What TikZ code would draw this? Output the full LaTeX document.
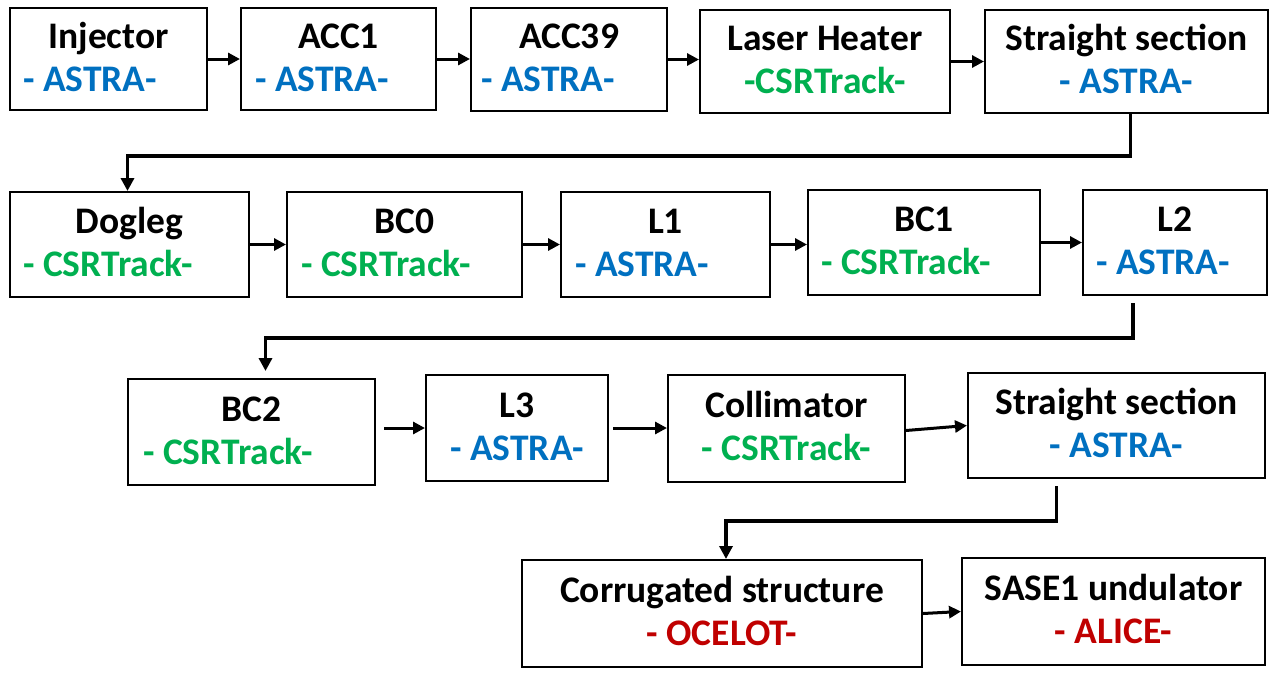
\documentclass[tikz,border=0pt]{standalone}
\usepackage{fontspec}
\setmainfont{Carlito}
\usetikzlibrary{arrows.meta}
\definecolor{cblue}{RGB}{0,112,192}
\definecolor{cgreen}{RGB}{0,176,80}
\definecolor{cred}{RGB}{192,0,0}
\newcommand{\stage}[6]{%
  \node[box, minimum width=#4pt, minimum height=#5pt] (#1) at (#2,#3) {};
  \node[ttl] (#1-t) at ([yshift=11pt]#1.center) {#6};}
\begin{document}
\begin{tikzpicture}[x=1pt,y=-1pt,
  box/.style={draw=black, line width=2pt, inner sep=0pt, fill=white},
  ttl/.style={font=\fontsize{37.5}{42}\selectfont\bfseries, anchor=base, inner sep=0pt},
  subc/.style={font=\fontsize{37.5}{42}\selectfont\bfseries, anchor=base, inner sep=0pt},
  subl/.style={font=\fontsize{37.5}{42}\selectfont\bfseries, anchor=base west, inner sep=0pt},
  arr/.style={line width=3pt, -{Triangle[length=12pt,width=12pt]}},
  link/.style={line width=3.5pt, -{Triangle[length=13pt,width=13pt]}}]
\useasboundingbox (0,0) rectangle (1277,681);
% row 1
\stage{inj}{108.5}{59}{197}{102}{Injector}
\stage{acc1}{338.5}{59}{195}{102}{ACC1}
\stage{acc39}{569}{59.5}{196}{103}{ACC39}
\stage{lh}{825}{61.5}{250}{103}{Laser Heater}
\stage{ssa}{1126.5}{61.5}{283}{103}{Straight section}
\node[subl, text=cblue] (inj-s) at ([xshift=14pt,yshift=-32pt]inj.west) {- ASTRA-};
\node[subl, text=cblue] (acc1-s) at ([xshift=15pt,yshift=-32pt]acc1.west) {- ASTRA-};
\node[subl, text=cblue] (acc39-s) at ([xshift=11pt,yshift=-32pt]acc39.west) {- ASTRA-};
\node[subc, text=cgreen] (lh-s) at ([yshift=-32pt]lh.center) {-CSRTrack-};
\node[subc, text=cblue] (ssa-s) at ([yshift=-32pt]ssa.center) {- ASTRA-};
% row 2
\stage{dog}{129.5}{244.5}{239}{105}{Dogleg}
\stage{bc0}{404.5}{244.5}{235}{105}{BC0}
\stage{l1}{665.5}{244.5}{209}{105}{L1}
\stage{bc1}{924}{242.5}{232}{105}{BC1}
\stage{l2}{1175}{242.5}{184}{105}{L2}
\node[subl, text=cgreen] (dog-s) at ([xshift=14pt,yshift=-32pt]dog.west) {- CSRTrack-};
\node[subl, text=cgreen] (bc0-s) at ([xshift=15pt,yshift=-32pt]bc0.west) {- CSRTrack-};
\node[subl, text=cblue] (l1-s) at ([xshift=15pt,yshift=-32pt]l1.west) {- ASTRA-};
\node[subl, text=cgreen] (bc1-s) at ([xshift=14pt,yshift=-32pt]bc1.west) {- CSRTrack-};
\node[subl, text=cblue] (l2-s) at ([xshift=14pt,yshift=-32pt]l2.west) {- ASTRA-};
% row 3
\stage{bc2}{251.5}{432}{247}{106}{BC2}
\stage{l3}{517}{428}{182}{106}{L3}
\stage{col}{786.5}{428.5}{237}{107}{Collimator}
\stage{ssb}{1116.5}{425.5}{297}{105}{Straight section}
\node[subl, text=cgreen] (bc2-s) at ([xshift=16pt,yshift=-32pt]bc2.west) {- CSRTrack-};
\node[subc, text=cblue] (l3-s) at ([yshift=-32pt]l3.center) {- ASTRA-};
\node[subc, text=cgreen] (col-s) at ([yshift=-32pt]col.center) {- CSRTrack-};
\node[subc, text=cblue] (ssb-s) at ([yshift=-32pt]ssb.center) {- ASTRA-};
% row 4
\stage{cor}{722}{613.5}{400}{107}{Corrugated structure}
\stage{sase}{1113.5}{611.5}{303}{107}{SASE1 undulator}
\node[subc, text=cred] (cor-s) at ([yshift=-32pt]cor.center) {- OCELOT-};
\node[subc, text=cred] (sase-s) at ([yshift=-32pt]sase.center) {- ALICE-};
% arrows
\draw[arr] (inj.east) -- (inj.east -| acc1.west);
\draw[arr] (acc1.east) -- (acc1.east -| acc39.west);
\draw[arr] (acc39.east) -- (acc39.east -| lh.west);
\draw[arr] (lh.east) -- (lh.east -| ssa.west);
\draw[arr] (dog.east) -- (dog.east -| bc0.west);
\draw[arr] (bc0.east) -- (bc0.east -| l1.west);
\draw[arr] (l1.east) -- (l1.east -| bc1.west);
\draw[arr] (bc1.east) -- (l2.west);
\draw[arr, shorten <=8pt] (bc2.east |- l3.west) -- (l3.west);
\draw[arr, shorten <=4pt] (l3.east) -- (l3.east -| col.west);
\draw[arr] ([yshift=-2pt]col.east) -- (ssb.west);
\draw[arr] (cor.east) -- (sase.west);
% elbow links
\draw[link] ([xshift=4pt]ssa.south) -- ++(0,42) -| ([xshift=-2pt]dog.north);
\draw[link] ([xshift=-42pt,yshift=-7pt]l2.south) -- ++(0,35) -| ([xshift=14pt,yshift=7pt]bc2.north);
\draw[link] ([xshift=-60pt,yshift=-7pt]ssb.south) -- ++(0,35) -| ([xshift=4pt]cor.north);
\end{tikzpicture}
\end{document}
